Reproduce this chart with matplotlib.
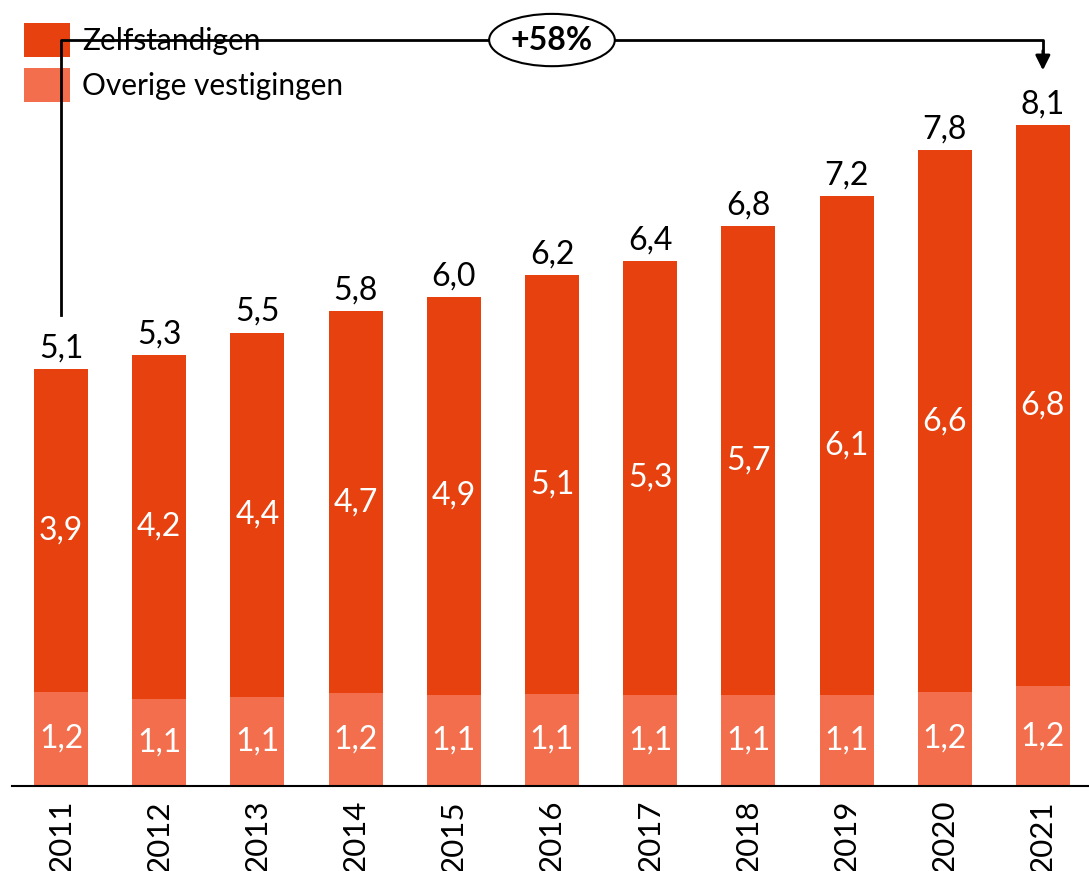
import numpy as np
import matplotlib.pyplot as plt
from matplotlib.patches import Ellipse

years = ['2011', '2012', '2013', '2014', '2015', '2016', '2017', '2018', '2019', '2020', '2021']
overige = [1.15, 1.065, 1.09, 1.14, 1.11, 1.13, 1.11, 1.11, 1.11, 1.15, 1.22]
zelfstandigen = [3.95, 4.215, 4.46, 4.67, 4.88, 5.12, 5.32, 5.74, 6.11, 6.63, 6.87]
overige_lbl = ['1,2', '1,1', '1,1', '1,2', '1,1', '1,1', '1,1', '1,1', '1,1', '1,2', '1,2']
zelf_lbl = ['3,9', '4,2', '4,4', '4,7', '4,9', '5,1', '5,3', '5,7', '6,1', '6,6', '6,8']
totaal_lbl = ['5,1', '5,3', '5,5', '5,8', '6,0', '6,2', '6,4', '6,8', '7,2', '7,8', '8,1']
groei = '+58%'

plt.rcParams['font.family'] = ['Lato', 'DejaVu Sans']

dark = '#E6410F'
light = '#F26E4D'

fig = plt.figure(figsize=(10.89, 8.71), dpi=100)
ax = fig.add_axes([12 / 1089, 1 - 786 / 871, 1 - 12 / 1089, 786 / 871])

x = np.arange(len(years))
tot = np.array(overige) + np.array(zelfstandigen)
b1 = ax.bar(x, overige, width=0.55, color=light, label='Overige vestigingen')
b2 = ax.bar(x, zelfstandigen, width=0.55, bottom=overige, color=dark, label='Zelfstandigen')

for i in range(len(years)):
    ax.text(x[i], overige[i] / 2, overige_lbl[i], ha='center', va='center',
            color='white', fontsize=23)
    ax.text(x[i], overige[i] + zelfstandigen[i] / 2, zelf_lbl[i],
            ha='center', va='center', color='white', fontsize=23)
    ax.annotate(totaal_lbl[i], (x[i], tot[i]), xytext=(0, 4),
                textcoords='offset points', ha='center', va='bottom',
                color='black', fontsize=23)

ax.set_xlim(-0.5, 10.47)
ax.set_ylim(0, 9.62)

# groei-pijl van 2011 naar 2021
ytop = 9.13
ax.plot([0, 0, 10, 10], [5.76, ytop, ytop, 8.95], color='black', lw=2, zorder=6)
ax.annotate('', xy=(10, 8.76), xytext=(10, 9.0),
            arrowprops=dict(arrowstyle='-|>', color='black', lw=2,
                            mutation_scale=22, shrinkA=0, shrinkB=0), zorder=6)
ax.add_patch(Ellipse((5.0, ytop), 1.28, 0.64, facecolor='white',
                     edgecolor='black', lw=1.5, zorder=7))
ax.text(5.0, ytop, groei, ha='center', va='center', fontsize=23,
        fontweight='bold', zorder=8)

ax.set_xticks(x)
ax.set_xticklabels(years, rotation=90, fontsize=22.5)
ax.tick_params(axis='x', length=0, pad=10)
ax.set_yticks([])
for s in ['top', 'right', 'left']:
    ax.spines[s].set_visible(False)
ax.spines['bottom'].set_linewidth(1.5)

leg = ax.legend(handles=[b2, b1], loc='upper left', bbox_to_anchor=(12 / 1077, 1 - 23 / 786),
                frameon=False, fontsize=21.5, handlelength=1.54, handleheight=1.37,
                handletextpad=0.4, labelspacing=0.38, borderaxespad=0, borderpad=0)
leg.set_zorder(5)

fig.savefig('out.png', dpi=100)
